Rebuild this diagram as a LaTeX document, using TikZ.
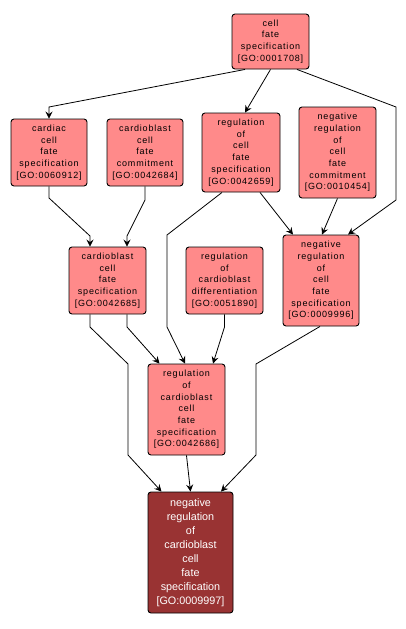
\documentclass[tikz,border=0pt]{standalone}
\usepackage{fontspec}
\setmainfont{Liberation Sans}
\newfontfamily\goterm[LetterSpace=9]{Liberation Sans}
\usetikzlibrary{arrows.meta,calc}
\definecolor{salmon}{RGB}{255,138,138}
\definecolor{darkred}{RGB}{153,51,51}
\tikzset{
  term/.style={draw=black, line width=0.9pt, rounded corners=3pt, fill=salmon, align=center,
    inner sep=0pt, font=\goterm\fontsize{9}{11.7}\selectfont, text=black},
  focus/.style={draw=black, line width=0.9pt, rounded corners=3pt, fill=darkred, align=center,
    inner sep=0pt, font=\fontsize{10.8}{14}\selectfont, text=white},
  edge/.style={draw=black, line width=0.8pt, -{Stealth[length=7pt,width=7pt,inset=2.5pt]}}
}
\begin{document}
\begin{tikzpicture}[x=1pt,y=-1pt]
\path[use as bounding box, fill=white] (0,0) rectangle (406,629);
\node[term, minimum width=77pt, minimum height=55pt] (A) at (270.5,41.5) {cell\\fate\\specification\\{[GO:0001708]}};
\node[term, minimum width=76pt, minimum height=67pt] (B) at (49,152.5) {cardiac\\cell\\fate\\specification\\{[GO:0060912]}};
\node[term, minimum width=76pt, minimum height=67pt] (C) at (145,152.5) {cardioblast\\cell\\fate\\commitment\\{[GO:0042684]}};
\node[term, minimum width=78pt, minimum height=79pt] (D) at (241,152.5) {regulation\\of\\cell\\fate\\specification\\{[GO:0042659]}};
\node[term, minimum width=77pt, minimum height=91pt] (E) at (337.5,152.5) {negative\\regulation\\of\\cell\\fate\\commitment\\{[GO:0010454]}};
\node[term, minimum width=77pt, minimum height=67pt] (F) at (107.5,280.5) {cardioblast\\cell\\fate\\specification\\{[GO:0042685]}};
\node[term, minimum width=77pt, minimum height=67pt] (G) at (224.5,280.5) {regulation\\of\\cardioblast\\differentiation\\{[GO:0051890]}};
\node[term, minimum width=76pt, minimum height=91pt] (H) at (321,280.5) {negative\\regulation\\of\\cell\\fate\\specification\\{[GO:0009996]}};
\node[term, minimum width=77pt, minimum height=91pt] (I) at (186.5,409.5) {regulation\\of\\cardioblast\\cell\\fate\\specification\\{[GO:0042686]}};
\node[focus, minimum width=85pt, minimum height=121pt] (J) at (190.5,552.5) {negative\\regulation\\of\\cardioblast\\cell\\fate\\specification\\{[GO:0009997]}};
% edges
\draw[edge] ([xshift=-25.5pt]A.south) -- (49,107) -- (B.north);
\draw[edge] (A.south) -- ([xshift=4pt]D.north);
\draw[edge] ([xshift=26.5pt]A.south) -- (396,107) -- (396,200) -- ([xshift=27pt]H.north);
\draw[edge] (B.south) -- (49,198) -- (90,236) -- ([xshift=-17.5pt]F.north);
\draw[edge] (C.south) -- (145,200) -- (127,236) -- ([xshift=19.5pt]F.north);
\draw[edge] ([xshift=19pt]D.south) -- ([xshift=-28pt]H.north);
\draw[edge] (E.south) -- ([xshift=1pt]H.north);
\draw[edge] ([xshift=-19pt]D.south) -- (167,235) -- (167,327) -- ([xshift=-1.5pt]I.north);
\draw[edge] ([xshift=19.5pt]F.south) -- (127,327) -- ([xshift=-27pt]I.north);
\draw[edge] ([xshift=-17.5pt]F.south) -- (90,327) -- (128,364) -- (128,455) -- ([xshift=-29pt]J.north);
\draw[edge] (G.south) -- (224.5,327) -- ([xshift=26.5pt]I.north);
\draw[edge] ([xshift=-1pt]H.south) -- (256,364) -- (256,455) -- ([xshift=30.5pt]J.north);
\draw[edge] (I.south) -- (J.north);
\end{tikzpicture}
\end{document}
